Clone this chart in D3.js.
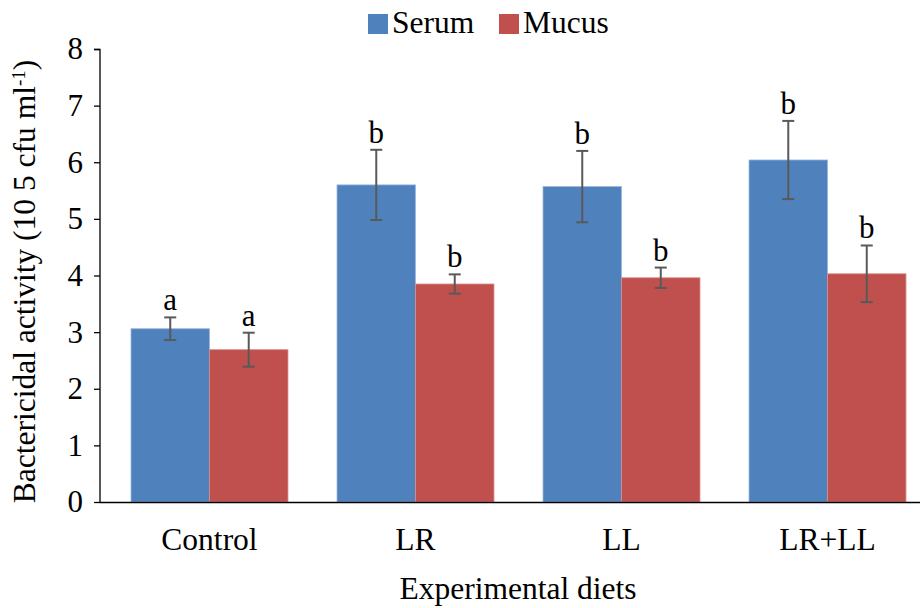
<!DOCTYPE html>
<html>
<head>
<meta charset="utf-8">
<script src="https://cdn.jsdelivr.net/npm/d3@7"></script>
<style>
  html, body { margin: 0; padding: 0; background: #fff; }
  svg { display: block; }
  svg text { font-family: "Liberation Serif", "Times New Roman", Tinos, "DejaVu Serif", serif !important; fill: #000; }
</style>
</head>
<body>
<svg id="chart" width="921" height="608"></svg>
<script>
// Bactericidal activity by diet, serum vs mucus, mean ± error
const categories = ["Control", "LR", "LL", "LR+LL"];
const seriesNames = ["Serum", "Mucus"];
const serumValues = [3.06, 5.60, 5.57, 6.04];
const serumErrors = [0.20, 0.62, 0.63, 0.69];
const serumLetters = ["a", "b", "b", "b"];
const mucusValues = [2.69, 3.85, 3.96, 4.03];
const mucusErrors = [0.30, 0.17, 0.18, 0.50];
const mucusLetters = ["a", "b", "b", "b"];
const yTicks = [0, 1, 2, 3, 4, 5, 6, 7, 8];
const colors = ["#4F81BD", "#C0504D"];

const rows = categories.map((c, i) => ({
  cat: c,
  bars: [
    { s: 0, v: serumValues[i], e: serumErrors[i], l: serumLetters[i] },
    { s: 1, v: mucusValues[i], e: mucusErrors[i], l: mucusLetters[i] }
  ]
}));

const svg = d3.select("#chart");
const margin = { left: 100, right: 1, top: 49, bottom: 106 };
const W = 921, H = 608;
const innerW = W - margin.left - margin.right;
const innerH = H - margin.top - margin.bottom;

// Category bands: first group starts 31px right of the axis, 206px step
const x = d3.scaleBand().domain(categories).range([31, 806]).paddingInner(0.238).paddingOuter(0);
const xs = d3.scaleBand().domain([0, 1]).range([0, x.bandwidth()]);
const y = d3.scaleLinear().domain([0, 8]).range([innerH, 0]);

const g = svg.append("g").attr("transform", `translate(${margin.left},${margin.top})`);

// Bars
const groups = g.selectAll("g.grp").data(rows).join("g")
  .attr("class", "grp")
  .attr("transform", d => `translate(${x(d.cat)},0)`);

groups.selectAll("rect").data(d => d.bars).join("rect")
  .attr("x", d => xs(d.s))
  .attr("width", xs.bandwidth())
  .attr("y", d => y(d.v))
  .attr("height", d => y(0) - y(d.v))
  .attr("fill", d => colors[d.s])
  .attr("stroke", d => d.s === 0 ? "#9bb7dd" : "#d98e8b")
  .attr("stroke-width", 0.8);

// Error bars
const eb = groups.selectAll("g.err").data(d => d.bars).join("g").attr("class", "err");
const cx = d => xs(d.s) + xs.bandwidth() / 2;
eb.append("line")
  .attr("x1", cx).attr("x2", cx)
  .attr("y1", d => y(d.v + d.e)).attr("y2", d => y(d.v - d.e))
  .attr("stroke", "#595959").attr("stroke-width", 2);
eb.append("line")
  .attr("x1", d => cx(d) - 6).attr("x2", d => cx(d) + 6)
  .attr("y1", d => y(d.v + d.e)).attr("y2", d => y(d.v + d.e))
  .attr("stroke", "#595959").attr("stroke-width", 2);
eb.append("line")
  .attr("x1", d => cx(d) - 6).attr("x2", d => cx(d) + 6)
  .attr("y1", d => y(d.v - d.e)).attr("y2", d => y(d.v - d.e))
  .attr("stroke", "#595959").attr("stroke-width", 2);

// Significance letters
eb.append("text")
  .attr("x", cx)
  .attr("y", d => y(d.v + d.e) - 7)
  .attr("text-anchor", "middle")
  .attr("font-size", 31)
  .text(d => d.l);

// Y axis
const yAxis = g.append("g")
  .call(d3.axisLeft(y).tickValues(yTicks).tickSize(6).tickPadding(11).tickFormat(d3.format("d")));
yAxis.selectAll("path, line").attr("stroke", "#000").attr("stroke-width", 1.3);
yAxis.select(".domain").attr("d", `M-6,0.5H0V${innerH}`);
yAxis.selectAll("text").attr("font-size", 31).attr("fill", "#000");

// X axis baseline and labels
const xAxis = g.append("g").attr("transform", `translate(0,${innerH})`)
  .call(d3.axisBottom(x).tickSize(0).tickPadding(26));
xAxis.select(".domain").attr("stroke", "#000").attr("stroke-width", 1.3).attr("d", `M0,0.5H${innerW}`);
xAxis.selectAll("text").attr("font-size", 31.5).attr("fill", "#000");

// Axis titles
svg.append("text")
  .attr("x", 518)
  .attr("y", 599)
  .attr("text-anchor", "middle")
  .attr("font-size", 31.5)
  .text("Experimental diets");

const yt = svg.append("text")
  .attr("transform", `translate(35,${margin.top + innerH / 2 + 6}) rotate(-90)`)
  .attr("text-anchor", "middle")
  .attr("font-size", 31.5);
yt.append("tspan").text("Bactericidal activity (10 5 cfu ml");
yt.append("tspan").attr("baseline-shift", "super").attr("font-size", 19).text("-1");
yt.append("tspan").text(")");

// Legend
const legend = svg.append("g").attr("transform", "translate(368,11)");
const legendX = [0, 131];
seriesNames.forEach((name, i) => {
  legend.append("rect").attr("x", legendX[i]).attr("y", 3).attr("width", 20).attr("height", 20).attr("fill", colors[i]);
  legend.append("text").attr("x", legendX[i] + 24).attr("y", 22).attr("font-size", 31.5).text(name);
});
</script>
</body>
</html>
